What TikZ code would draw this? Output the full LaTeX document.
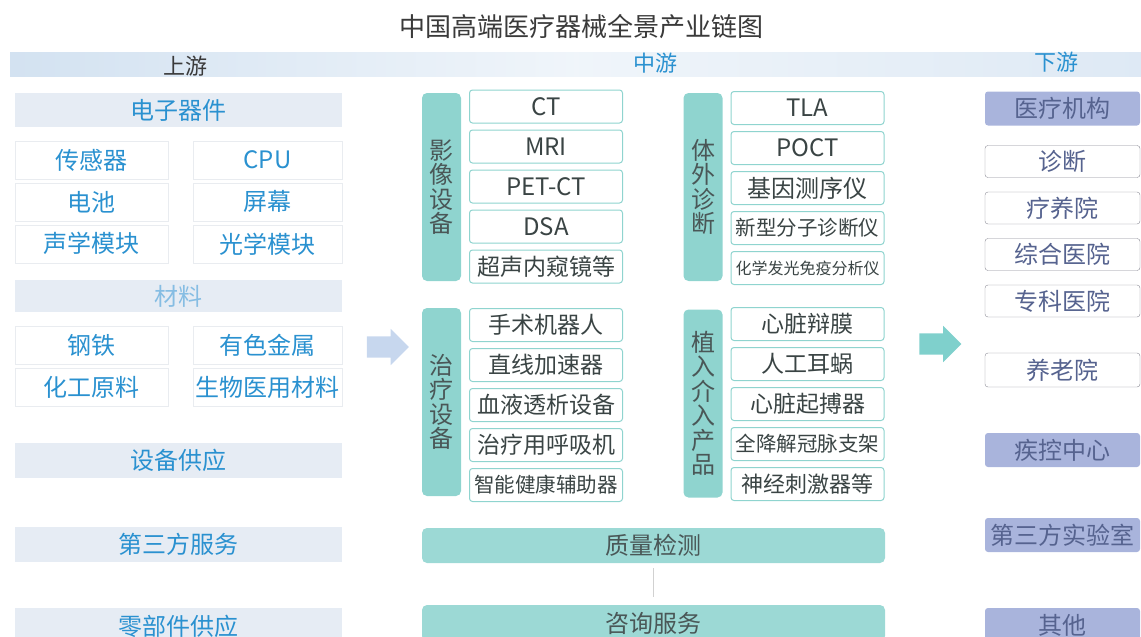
\documentclass[tikz,border=0pt]{standalone}
\usepackage{fontspec}
\setmainfont{Noto Sans CJK SC}
\usepackage{xcolor}
\usetikzlibrary{positioning,shapes.arrows}
\definecolor{HeadBlue}{HTML}{D3E2F1}
\definecolor{CatGray}{HTML}{E6ECF4}
\definecolor{UpBlue}{HTML}{2A91D0}
\definecolor{UpLight}{HTML}{86BDE3}
\definecolor{CellLine}{HTML}{E9ECF0}
\definecolor{TagTeal}{HTML}{8FD4CF}
\definecolor{ItemText}{HTML}{3A4444}
\definecolor{TagText}{HTML}{4A5757}
\definecolor{BarTeal}{HTML}{9CD9D5}
\definecolor{Lavender}{HTML}{A9B4DC}
\definecolor{DownText}{HTML}{56638F}
\definecolor{DownLine}{HTML}{8C8C96}
\definecolor{ArrowBlue}{HTML}{C7D7EE}
\definecolor{ArrowTeal}{HTML}{7FD0CC}
\definecolor{TitleGray}{HTML}{3A3A3A}
\newcommand\fsz[1]{\fontsize{#1}{#1}\selectfont}

\begin{document}
\begin{tikzpicture}[
  x=1pt, y=-1pt,
  node distance=6pt and 8pt,
  every node/.style={inner sep=0pt, font=\fsz{24}},
  headbar/.style={left color=HeadBlue, right color=HeadBlue!75!white, middle color=HeadBlue!35!white,
    minimum width=1131pt, minimum height=24pt},
  catbar/.style={fill=CatGray, text=UpBlue, minimum width=327pt, minimum height=34pt},
  upcell/.style={fill=white, draw=CellLine, text=UpBlue, minimum width=153pt, minimum height=38pt},
  tag/.style={fill=TagTeal, rounded corners=5pt, text=TagText, align=center,
    minimum width=39pt, minimum height=188pt, font=\fontsize{24}{24.5}\selectfont},
  item/.style={draw=TagTeal, line width=1pt, fill=white, rounded corners=3pt, text=ItemText,
    minimum width=153pt, minimum height=33pt},
  midbar/.style={fill=BarTeal, rounded corners=5pt, text=TagText, minimum width=463pt, minimum height=35pt},
  downhead/.style={fill=Lavender, rounded corners=3pt, text=DownText, minimum width=155pt, minimum height=34pt},
  downitem/.style={draw=DownLine, fill=white, rounded corners=3pt, text=DownText,
    minimum width=155pt, minimum height=32pt},
  flow/.style={single arrow, inner sep=10.5pt, minimum height=42pt, single arrow head extend=7.5pt}
]
  \useasboundingbox (0,0) rectangle (1141,637);

  \node[text=TitleGray, font=\fsz{26}] (title) at (581,27) {中国高端医疗器械全景产业链图};
  \node[headbar] (head) at (575.5,64) {};
  \node[text=TitleGray, font=\fsz{22}] (upT) at (185,66) {上游};
  \node[text=UpBlue, font=\fsz{22}] (midT) at (655,63) {中游};
  \node[text=UpBlue, font=\fsz{22}] (downT) at (1056,62) {下游};

  \node[catbar] (elec) at (178.5,110) {电子器件};
  \node[upcell] (sensor) at (91.5,160) {传感器};
  \node[upcell, minimum width=149pt] (cpu) at (267.5,160) {CPU};
  \node[upcell, below=3.5pt of sensor] (battery) {电池};
  \node[upcell, below=3.5pt of cpu, minimum width=149pt] (screen) {屏幕};
  \node[upcell, below=3.5pt of battery] (acoustic) {声学模块};
  \node[upcell, below=3.5pt of screen, minimum width=149pt] (optic) {光学模块};
  \node[catbar, text=UpLight, minimum height=32pt] (mat) at (178.5,296) {材料};
  \node[upcell] (steel) at (91.5,345) {钢铁};
  \node[upcell, minimum width=149pt] (metal) at (267.5,345) {有色金属};
  \node[upcell, below=4pt of steel] (chem) {化工原料};
  \node[upcell, below=4pt of metal, minimum width=149pt] (biomat) {生物医用材料};
  \node[catbar, minimum height=35pt] (equip) at (178.5,460) {设备供应};
  \node[catbar, minimum height=35pt] (service) at (178.5,544) {第三方服务};
  \node[catbar, minimum height=36pt] (parts) at (178.5,626) {零部件供应};

  \node[flow, fill=ArrowBlue] (arrowL) at (382.5,347) {};
  \node[flow, fill=ArrowTeal] (arrowR) at (935,344) {};

  \node[tag] (imaging) at (441.5,187) {影\\像\\设\\备};
  \node[item] (ct) at (546,106.5) {CT};
  \node[item, below=of ct] (mri) {MRI};
  \node[item, below=of mri] (petct) {PET-CT};
  \node[item, below=of petct] (dsa) {DSA};
  \node[item, below=of dsa, font=\fsz{23}] (endo) {超声内窥镜等};

  \node[tag] (ivd) at (703,187) {体\\外\\诊\\断};
  \node[item] (tla) at (807.5,108) {TLA};
  \node[item, below=of tla] (poct) {POCT};
  \node[item, below=of poct] (seq) {基因测序仪};
  \node[item, below=of seq, font=\fsz{20.5}] (mdx) {新型分子诊断仪};
  \node[item, below=of mdx, font=\fsz{16}] (clia) {化学发光免疫分析仪};

  \node[tag] (therapy) at (441.5,402) {治\\疗\\设\\备};
  \node[item, font=\fsz{23}] (robot) at (546,325) {手术机器人};
  \node[item, below=of robot, font=\fsz{23}] (linac) {直线加速器};
  \node[item, below=of linac, font=\fsz{23}] (dialysis) {血液透析设备};
  \node[item, below=of dialysis, font=\fsz{23}] (vent) {治疗用呼吸机};
  \node[item, below=of vent, font=\fsz{20.5}] (assist) {智能健康辅助器};

  \node[tag] (implant) at (703,403.5) {植\\入\\介\\入\\产\\品};
  \node[item, font=\fsz{23}] (valve) at (807.5,324) {心脏辩膜};
  \node[item, below=of valve, font=\fsz{23}] (cochlea) {人工耳蜗};
  \node[item, below=of cochlea, font=\fsz{23}] (pacer) {心脏起搏器};
  \node[item, below=of pacer, font=\fsz{20.5}] (stent) {全降解冠脉支架};
  \node[item, below=of stent, font=\fsz{22}] (neuro) {神经刺激器等};

  \node[midbar] (qc) at (653.5,545.5) {质量检测};
  \node[midbar, minimum height=36pt] (consult) at (653.5,623) {咨询服务};

  \node[downhead] (inst) at (1062.5,108.5) {医疗机构};
  \node[downitem] (diag) at (1062.5,161.5) {诊断};
  \node[downitem] (rehab) at (1062.5,208) {疗养院};
  \node[downitem] (general) at (1062.5,254.5) {综合医院};
  \node[downitem] (special) at (1062.5,301) {专科医院};
  \node[downitem, minimum height=34pt] (elder) at (1062.5,370) {养老院};
  \node[downhead] (cdc) at (1062.5,450) {疾控中心};
  \node[downhead] (lab) at (1062.5,535) {第三方实验室};
  \node[downhead] (other) at (1062.5,625) {其他};

  \draw[black!18, line width=1pt, shorten <=5pt, shorten >=8pt] (qc) -- (consult);
\end{tikzpicture}
\end{document}
